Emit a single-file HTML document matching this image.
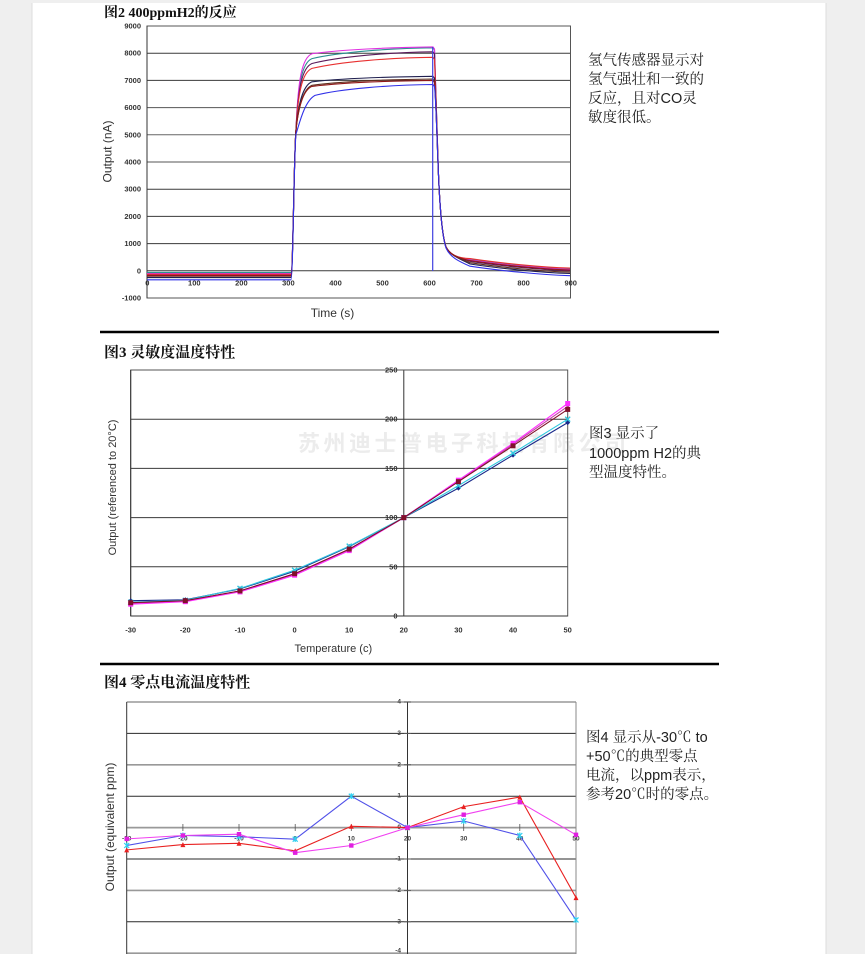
<!DOCTYPE html>
<html><head><meta charset="utf-8"><style>
html,body{margin:0;padding:0;background:#efefef;}
svg{display:block;}
.tk{font-family:"Liberation Sans",sans-serif;font-size:7.5px;font-weight:bold;fill:#333;}
.tk3{font-family:"Liberation Sans",sans-serif;font-size:6.5px;font-weight:bold;fill:#444;}
.ax{font-family:"Liberation Sans",sans-serif;fill:#333;}
.ttl{font-family:"Liberation Serif","Noto Serif CJK SC",serif;font-weight:bold;fill:#111;}
.p{font-family:"Liberation Sans","Noto Serif CJK SC",serif;font-size:14.5px;fill:#222;}
</style></head><body>
<svg width="865" height="954" viewBox="0 0 865 954" xmlns="http://www.w3.org/2000/svg">
<defs>
<marker id="mDia" markerWidth="6" markerHeight="6" refX="3" refY="3" markerUnits="userSpaceOnUse"><path d="M3,0.5 L5.5,3 L3,5.5 L0.5,3Z" fill="#1a2a8a"/></marker>
<marker id="mCy" markerWidth="6" markerHeight="6" refX="3" refY="3" markerUnits="userSpaceOnUse"><path d="M0.5,0.5 L5.5,5.5 M5.5,0.5 L0.5,5.5" stroke="#30c8e0" stroke-width="1.4"/></marker>
<marker id="mMar" markerWidth="6" markerHeight="6" refX="3" refY="3" markerUnits="userSpaceOnUse"><rect x="0.5" y="0.5" width="5" height="5" fill="#80102a"/></marker>
<marker id="mMag" markerWidth="6" markerHeight="6" refX="3" refY="3" markerUnits="userSpaceOnUse"><rect x="0.5" y="0.5" width="5" height="5" fill="#ff30ff"/></marker>
<marker id="mTriP" markerWidth="6" markerHeight="6" refX="3" refY="3" markerUnits="userSpaceOnUse"><path d="M3,0.5 L5.5,5.5 L0.5,5.5Z" fill="#c040a0"/></marker>
<marker id="mTriR" markerWidth="6" markerHeight="6" refX="3" refY="3" markerUnits="userSpaceOnUse"><path d="M3,0.5 L5.5,5.5 L0.5,5.5Z" fill="#e82020"/></marker>
<marker id="mSqM" markerWidth="6" markerHeight="6" refX="3" refY="3" markerUnits="userSpaceOnUse"><rect x="0.8" y="0.8" width="4.4" height="4.4" fill="#e020e0"/></marker>
<marker id="mX" markerWidth="6" markerHeight="6" refX="3" refY="3" markerUnits="userSpaceOnUse"><path d="M0.5,0.5 L5.5,5.5 M5.5,0.5 L0.5,5.5 M3,0 L3,6" stroke="#30d0f0" stroke-width="1.2"/></marker>
</defs>

<!-- page -->
<rect x="0" y="0" width="865" height="954" fill="#efefef"/>
<rect x="32" y="3" width="794" height="951" fill="#ffffff"/>
<line x1="32" y1="3" x2="32" y2="954" stroke="#dcdcdc" stroke-width="1"/>
<line x1="826" y1="3" x2="826" y2="954" stroke="#dcdcdc" stroke-width="1"/>

<!-- ============ Chart 1 ============ -->
<text class="ttl" x="104" y="17" font-size="14">图2 400ppmH2的反应</text>
<g stroke="#3a3a3a" stroke-width="1">
<line x1="147" y1="53.2" x2="570.5" y2="53.2"/>
<line x1="147" y1="80.4" x2="570.5" y2="80.4"/>
<line x1="147" y1="107.6" x2="570.5" y2="107.6" stroke="#555"/>
<line x1="147" y1="134.8" x2="570.5" y2="134.8" stroke="#666"/>
<line x1="147" y1="162" x2="570.5" y2="162" stroke="#555"/>
<line x1="147" y1="189.2" x2="570.5" y2="189.2"/>
<line x1="147" y1="216.4" x2="570.5" y2="216.4"/>
<line x1="147" y1="243.6" x2="570.5" y2="243.6"/>
<line x1="147" y1="270.8" x2="570.5" y2="270.8"/>
</g>
<rect x="147" y="26" width="423.5" height="272" fill="none" stroke="#555" stroke-width="1"/>
<line x1="147" y1="26" x2="147" y2="298" stroke="#333"/>
<g class="tk" text-anchor="end" dominant-baseline="central">
<text x="141" y="26">9000</text><text x="141" y="53.2">8000</text><text x="141" y="80.4">7000</text>
<text x="141" y="107.6">6000</text><text x="141" y="134.8">5000</text><text x="141" y="162">4000</text>
<text x="141" y="189.2">3000</text><text x="141" y="216.4">2000</text><text x="141" y="243.6">1000</text>
<text x="141" y="270.8">0</text><text x="141" y="298">-1000</text>
</g>
<g class="tk" text-anchor="middle" dominant-baseline="central">
<text x="147.3" y="283">0</text><text x="194.3" y="283">100</text><text x="241.4" y="283">200</text>
<text x="288.4" y="283">300</text><text x="335.5" y="283">400</text><text x="382.5" y="283">500</text>
<text x="429.5" y="283">600</text><text x="476.6" y="283">700</text><text x="523.6" y="283">800</text>
<text x="570.7" y="283">900</text>
</g>
<text class="ax" font-size="12" text-anchor="middle" dominant-baseline="central" transform="translate(107.3,151.5) rotate(-90)">Output (nA)</text>
<text class="ax" font-size="12" text-anchor="middle" dominant-baseline="central" x="332.5" y="313">Time (s)</text>

<g fill="none" stroke-width="1.1">
<path stroke="#2a9090" d="M147,272.4 L291,272.4 C293,272.4 294,150 296,130 C298,83.6 302,62.6 312,58.6 C340,52.1 390,48.3 433,47.8 L434.5,49.8 C436,100 437,140 438.5,175 C440,210 442,236 446,247 C450,255 458,258 470,259.1 C500,263.6 540,267.6 570,268.6"/>
<path stroke="#e030e0" d="M147,273.5 L291,273.5 C293,273.5 294,150 296,130 C298,78.7 302,57.7 312,53.7 C340,49.7 390,47.4 433,46.9 L434.5,48.9 C436,100 437,140 438.5,175 C440,210 442,236 446,247 C450,255 458,258 470,259.9 C500,264.4 540,268.4 570,269.4"/>
<path stroke="#5a1a5a" d="M147,274.9 L291,274.9 C293,274.9 294,150 296,130 C298,88.5 302,67.5 312,63.5 C340,56.5 390,52.3 433,51.8 L434.5,53.8 C436,100 437,140 438.5,175 C440,210 442,236 446,247 C450,255 458,258 470,261.3 C500,265.8 540,269.8 570,270.8"/>
<path stroke="#e83030" d="M147,274.3 L291,274.3 C293,274.3 294,150 296,130 C298,93.4 302,72.4 312,68.4 C340,61.7 390,57.8 433,57.3 L434.5,59.3 C436,100 437,140 438.5,175 C440,210 442,236 446,247 C450,255 458,258 470,258.6 C500,263.1 540,267.1 570,268.1"/>
<path stroke="#202050" d="M147,277.6 L291,277.6 C293,277.6 294,150 296,130 C298,106.8 302,85.8 312,81.8 C340,78.5 390,76.8 433,76.3 L434.5,78.3 C436,100 437,140 438.5,175 C440,210 442,236 446,247 C450,255 458,258 470,264 C500,268.5 540,272.5 570,273.5"/>
<path stroke="#603020" d="M147,276.2 L291,276.2 C293,276.2 294,150 296,130 C298,110.3 302,89.3 312,85.3 C340,81.5 390,79.5 433,79 L434.5,81 C436,100 437,140 438.5,175 C440,210 442,236 446,247 C450,255 458,258 470,262.7 C500,267.2 540,271.2 570,272.2"/>
<path stroke="#901818" d="M147,275.7 L291,275.7 C293,275.7 294,150 296,130 C298,111.4 302,90.4 312,86.4 C340,82.8 390,80.9 433,80.4 L434.5,82.4 C436,100 437,140 438.5,175 C440,210 442,236 446,247 C450,255 458,258 470,260.5 C500,265 540,269 570,270"/>
<path stroke="#3030e8" d="M147,279.8 L291,279.8 C293,279.8 294,150 296,134 C299,125.4 304,101.4 315,95.4 C340,88.8 390,85 433,84.5 L434.5,86.5 C436,100 437,140 438.5,175 C440,210 442,236 446,248 C450,257 458,261 470,266.2 C500,270.7 540,274.7 570,275.7"/>
</g>
<line x1="432.7" y1="47" x2="432.7" y2="271" stroke="#4040e0" stroke-width="1.2"/>

<text class="p" x="588" y="65">氢气传感器显示对</text>
<text class="p" x="588" y="84">氢气强壮和一致的</text>
<text class="p" x="588" y="103">反应，且对CO灵</text>
<text class="p" x="588" y="122">敏度很低。</text>

<line x1="100" y1="332" x2="719" y2="332" stroke="#000" stroke-width="2.5"/>

<!-- ============ Chart 2 ============ -->
<text class="ttl" x="104" y="357" font-size="15">图3 灵敏度温度特性</text>
<text x="298" y="451" font-family="'Liberation Sans','Noto Sans CJK SC',sans-serif" font-size="22" font-weight="bold" letter-spacing="3.5" fill="#ececec">苏州迪士普电子科技有限公司</text>
<g stroke="#3a3a3a" stroke-width="1">
<line x1="130.7" y1="419.2" x2="567.7" y2="419.2"/>
<line x1="130.7" y1="468.4" x2="567.7" y2="468.4"/>
<line x1="130.7" y1="517.6" x2="567.7" y2="517.6"/>
<line x1="130.7" y1="566.8" x2="567.7" y2="566.8"/>
<line x1="403.8" y1="370" x2="403.8" y2="616" stroke="#333"/>
</g>
<rect x="130.7" y="370" width="437" height="246" fill="none" stroke="#555" stroke-width="1"/>
<line x1="130.7" y1="370" x2="130.7" y2="616" stroke="#333"/>
<line x1="130.7" y1="616" x2="567.7" y2="616" stroke="#333"/>
<g class="tk" text-anchor="end" dominant-baseline="central">
<text x="397.5" y="370">250</text><text x="397.5" y="419.2">200</text><text x="397.5" y="468.4">150</text>
<text x="397.5" y="517.6">100</text><text x="397.5" y="566.8">50</text><text x="397.5" y="616">0</text>
</g>
<g class="tk" text-anchor="middle" dominant-baseline="central">
<text x="130.7" y="630">-30</text><text x="185.3" y="630">-20</text><text x="240" y="630">-10</text>
<text x="294.6" y="630">0</text><text x="349.2" y="630">10</text><text x="403.8" y="630">20</text>
<text x="458.4" y="630">30</text><text x="513" y="630">40</text><text x="567.7" y="630">50</text>
</g>
<text class="ax" font-size="11" text-anchor="middle" dominant-baseline="central" transform="translate(113,487.5) rotate(-90)">Output (referenced to 20°C)</text>
<text class="ax" font-size="11" text-anchor="middle" dominant-baseline="central" x="333.3" y="649">Temperature (c)</text>

<g fill="none" stroke-width="1.1">
<polyline stroke="#1a2a8a" marker-start="url(#mDia)" marker-mid="url(#mDia)" marker-end="url(#mDia)" points="130.7,600.7 185.3,599.8 240,588.9 294.6,571.2 349.2,546.6 403.8,517.6 458.4,488.1 513,455.1 567.7,422.6"/>
<polyline stroke="#30c8e0" marker-start="url(#mCy)" marker-mid="url(#mCy)" marker-end="url(#mCy)" points="130.7,602.2 185.3,600.3 240,588.4 294.6,570.2 349.2,546.1 403.8,517.6 458.4,485.6 513,453.1 567.7,419.2"/>
<polyline stroke="#c040a0" marker-start="url(#mTriP)" marker-mid="url(#mTriP)" marker-end="url(#mTriP)" points="130.7,603.2 185.3,601.2 240,590.9 294.6,574.2 349.2,549.6 403.8,517.6 458.4,481.2 513,444.3 567.7,406.4"/>
<polyline stroke="#ff30ff" marker-start="url(#mMag)" marker-mid="url(#mMag)" marker-end="url(#mMag)" points="130.7,604.2 185.3,601.7 240,591.9 294.6,575.2 349.2,550.6 403.8,517.6 458.4,480.2 513,443.3 567.7,403.5"/>
<polyline stroke="#80102a" marker-start="url(#mMar)" marker-mid="url(#mMar)" marker-end="url(#mMar)" points="130.7,602.7 185.3,600.7 240,590.9 294.6,573.7 349.2,549.1 403.8,517.6 458.4,481.7 513,445.8 567.7,409.4"/>
</g>

<text class="p" x="589" y="438">图3 显示了</text>
<text class="p" x="589" y="458">1000ppm H2的典</text>
<text class="p" x="589" y="477">型温度特性。</text>

<line x1="100" y1="664" x2="719" y2="664" stroke="#000" stroke-width="2.5"/>

<!-- ============ Chart 3 ============ -->
<text class="ttl" x="104" y="687" font-size="15">图4 零点电流温度特性</text>
<g stroke-width="1">
<line x1="126.7" y1="702" x2="576" y2="702" stroke="#999" stroke-width="1.6"/>
<line x1="126.7" y1="733.4" x2="576" y2="733.4" stroke="#2a2a2a"/>
<line x1="126.7" y1="764.8" x2="576" y2="764.8" stroke="#999" stroke-width="1.6"/>
<line x1="126.7" y1="796.2" x2="576" y2="796.2" stroke="#2a2a2a"/>
<line x1="126.7" y1="827.6" x2="576" y2="827.6" stroke="#999" stroke-width="1.8"/>
<line x1="126.7" y1="859" x2="576" y2="859" stroke="#2a2a2a"/>
<line x1="126.7" y1="890.4" x2="576" y2="890.4" stroke="#999" stroke-width="1.6"/>
<line x1="126.7" y1="921.8" x2="576" y2="921.8" stroke="#2a2a2a"/>
<line x1="126.7" y1="953.2" x2="576" y2="953.2" stroke="#999" stroke-width="1.6"/>
<line x1="126.7" y1="702" x2="126.7" y2="954" stroke="#333"/>
<line x1="576" y1="702" x2="576" y2="954" stroke="#888"/>
<line x1="407.5" y1="702" x2="407.5" y2="954" stroke="#333"/>
</g>
<g stroke="#555" stroke-width="0.8">
<line x1="182.9" y1="824" x2="182.9" y2="831"/><line x1="239" y1="824" x2="239" y2="831"/>
<line x1="295.2" y1="824" x2="295.2" y2="831"/><line x1="351.3" y1="824" x2="351.3" y2="831"/>
<line x1="463.7" y1="824" x2="463.7" y2="831"/><line x1="519.8" y1="824" x2="519.8" y2="831"/>
<line x1="404" y1="702" x2="411" y2="702"/><line x1="404" y1="733.4" x2="411" y2="733.4"/>
<line x1="404" y1="764.8" x2="411" y2="764.8"/><line x1="404" y1="796.2" x2="411" y2="796.2"/>
<line x1="404" y1="859" x2="411" y2="859"/><line x1="404" y1="890.4" x2="411" y2="890.4"/>
<line x1="404" y1="921.8" x2="411" y2="921.8"/>
</g>
<g class="tk3" text-anchor="end" dominant-baseline="central">
<text x="401" y="702">4</text><text x="401" y="733.4">3</text><text x="401" y="764.8">2</text>
<text x="401" y="796.2">1</text><text x="401" y="827.6">0</text><text x="401" y="859">-1</text>
<text x="401" y="890.4">-2</text><text x="401" y="921.8">-3</text><text x="401" y="951">-4</text>
</g>
<g class="tk3" text-anchor="middle" dominant-baseline="central" font-size="7">
<text x="126.7" y="839">-30</text><text x="182.9" y="839">-20</text><text x="239" y="839">-10</text>
<text x="295.2" y="839">0</text><text x="351.3" y="839">10</text><text x="407.5" y="839">20</text>
<text x="463.7" y="839">30</text><text x="519.8" y="839">40</text><text x="576" y="839">50</text>
</g>
<text class="ax" font-size="12" text-anchor="middle" dominant-baseline="central" transform="translate(110,827) rotate(-90)">Output (equivalent ppm)</text>

<g fill="none" stroke-width="1.1">
<polyline stroke="#5050e8" marker-start="url(#mX)" marker-mid="url(#mX)" marker-end="url(#mX)" points="126.7,845.5 182.9,835.5 239,836.7 295.2,839.2 351.3,796.2 407.5,827.6 463.7,821 519.8,835.5 576,919.9"/>
<polyline stroke="#e82020" marker-start="url(#mTriR)" marker-mid="url(#mTriR)" marker-end="url(#mTriR)" points="126.7,849.9 182.9,844.6 239,843.3 295.2,850.8 351.3,826.3 407.5,827.6 463.7,806.6 519.8,797.1 576,897.6"/>
<polyline stroke="#f040f0" marker-start="url(#mSqM)" marker-mid="url(#mSqM)" marker-end="url(#mSqM)" points="126.7,838.9 182.9,835.5 239,834.2 295.2,852.7 351.3,845.5 407.5,827.6 463.7,814.7 519.8,802.2 576,834.8"/>
</g>

<text class="p" x="586" y="742">图4 显示从-30℃ to</text>
<text class="p" x="586" y="761">+50℃的典型零点</text>
<text class="p" x="586" y="780">电流，以ppm表示，</text>
<text class="p" x="586" y="799">参考20℃时的零点。</text>
</svg>
</body></html>
